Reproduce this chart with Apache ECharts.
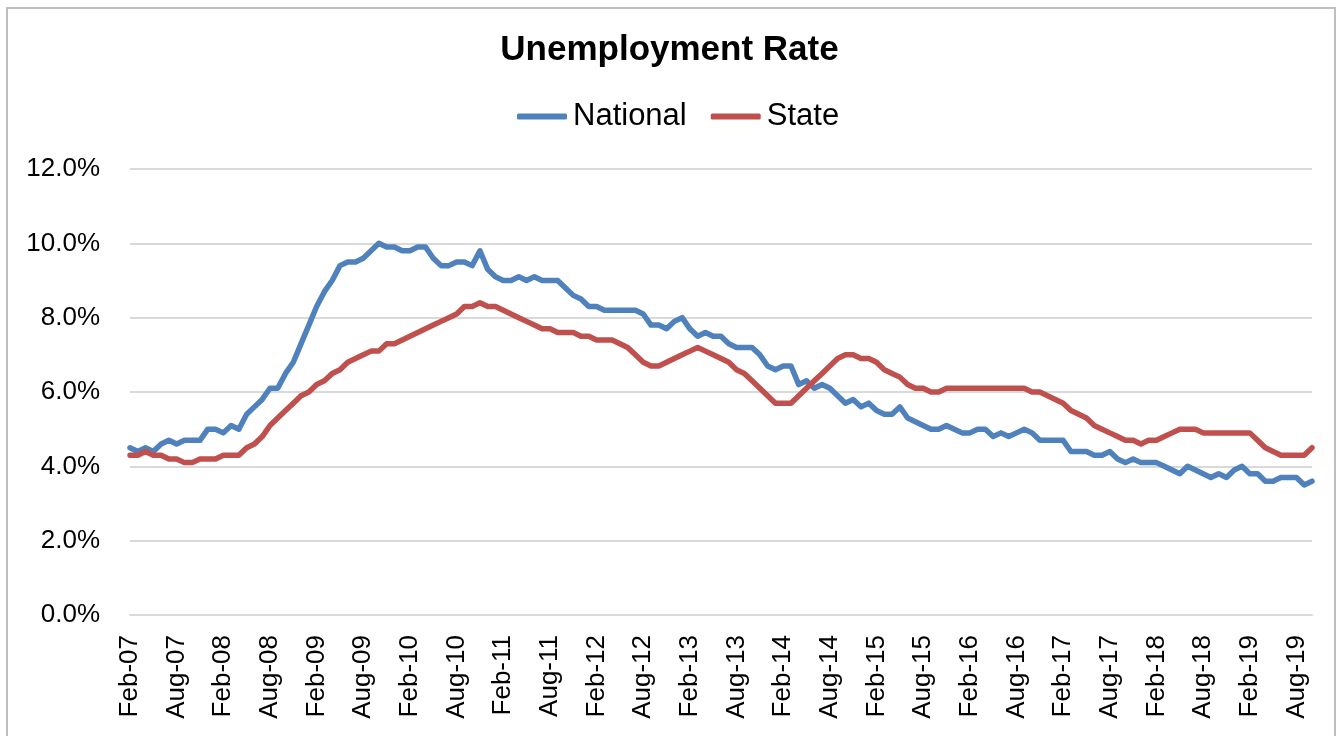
<!DOCTYPE html>
<html>
<head>
<meta charset="utf-8">
<script src="https://cdn.jsdelivr.net/npm/echarts@6/dist/echarts.min.js"></script>
<style>
html,body{margin:0;padding:0;background:#fff;}
#chart{width:1339px;height:736px;}
</style>
</head>
<body>
<div id="chart"></div>
<script>
// Category labels: monthly, Feb-07 .. Oct-19
const monthNames = ['Jan','Feb','Mar','Apr','May','Jun','Jul','Aug','Sep','Oct','Nov','Dec'];
const startYear = 2007, startMonth = 1;   // Feb 2007 (0-based month)
const endYear = 2019, endMonth = 9;       // Oct 2019
const categories = [];
for (let y = startYear; y <= endYear; y++) {
  for (let m = 0; m < 12; m++) {
    if (y === startYear && m < startMonth) continue;
    if (y === endYear && m > endMonth) continue;
    categories.push(monthNames[m] + '-' + String(y).slice(2));
  }
}

// National unemployment rate (%)
const national2007 = [4.5,4.4,4.5,4.4,4.6,4.7,4.6,4.7,4.7,4.7,5.0];
const national2008 = [5.0,4.9,5.1,5.0,5.4,5.6,5.8,6.1,6.1,6.5,6.8,7.3];
const national2009 = [7.8,8.3,8.7,9.0,9.4,9.5,9.5,9.6,9.8,10.0,9.9,9.9];
const national2010 = [9.8,9.8,9.9,9.9,9.6,9.4,9.4,9.5,9.5,9.4,9.8,9.3];
const national2011 = [9.1,9.0,9.0,9.1,9.0,9.1,9.0,9.0,9.0,8.8,8.6,8.5];
const national2012 = [8.3,8.3,8.2,8.2,8.2,8.2,8.2,8.1,7.8,7.8,7.7,7.9];
const national2013 = [8.0,7.7,7.5,7.6,7.5,7.5,7.3,7.2,7.2,7.2,7.0,6.7];
const national2014 = [6.6,6.7,6.7,6.2,6.3,6.1,6.2,6.1,5.9,5.7,5.8,5.6];
const national2015 = [5.7,5.5,5.4,5.4,5.6,5.3,5.2,5.1,5.0,5.0,5.1,5.0];
const national2016 = [4.9,4.9,5.0,5.0,4.8,4.9,4.8,4.9,5.0,4.9,4.7,4.7];
const national2017 = [4.7,4.7,4.4,4.4,4.4,4.3,4.3,4.4,4.2,4.1,4.2,4.1];
const national2018 = [4.1,4.1,4.0,3.9,3.8,4.0,3.9,3.8,3.7,3.8,3.7,3.9];
const national2019 = [4.0,3.8,3.8,3.6,3.6,3.7,3.7,3.7,3.5,3.6];

// State unemployment rate (%)
const state2007 = [4.3,4.3,4.4,4.3,4.3,4.2,4.2,4.1,4.1,4.2,4.2];
const state2008 = [4.2,4.3,4.3,4.3,4.5,4.6,4.8,5.1,5.3,5.5,5.7,5.9];
const state2009 = [6.0,6.2,6.3,6.5,6.6,6.8,6.9,7.0,7.1,7.1,7.3,7.3];
const state2010 = [7.4,7.5,7.6,7.7,7.8,7.9,8.0,8.1,8.3,8.3,8.4,8.3];
const state2011 = [8.3,8.2,8.1,8.0,7.9,7.8,7.7,7.7,7.6,7.6,7.6,7.5];
const state2012 = [7.5,7.4,7.4,7.4,7.3,7.2,7.0,6.8,6.7,6.7,6.8,6.9];
const state2013 = [7.0,7.1,7.2,7.1,7.0,6.9,6.8,6.6,6.5,6.3,6.1,5.9];
const state2014 = [5.7,5.7,5.7,5.9,6.1,6.3,6.5,6.7,6.9,7.0,7.0,6.9];
const state2015 = [6.9,6.8,6.6,6.5,6.4,6.2,6.1,6.1,6.0,6.0,6.1,6.1];
const state2016 = [6.1,6.1,6.1,6.1,6.1,6.1,6.1,6.1,6.1,6.0,6.0,5.9];
const state2017 = [5.8,5.7,5.5,5.4,5.3,5.1,5.0,4.9,4.8,4.7,4.7,4.6];
const state2018 = [4.7,4.7,4.8,4.9,5.0,5.0,5.0,4.9,4.9,4.9,4.9,4.9];
const state2019 = [4.9,4.9,4.7,4.5,4.4,4.3,4.3,4.3,4.3,4.5];

const national = [].concat(national2007,national2008,national2009,national2010,national2011,
  national2012,national2013,national2014,national2015,national2016,national2017,national2018,national2019);
const state = [].concat(state2007,state2008,state2009,state2010,state2011,state2012,state2013,
  state2014,state2015,state2016,state2017,state2018,state2019);

const yTicks = {min: 0, max: 12, interval: 2};

const FONT = '"Liberation Sans", Arial, sans-serif';
const chart = echarts.init(document.getElementById('chart'), null, {renderer: 'canvas'});
chart.setOption({
  backgroundColor: '#ffffff',
  animation: false,
  textStyle: {fontFamily: FONT},
  graphic: [{
    type: 'rect',
    shape: {x: 7, y: 8, width: 1328, height: 740},
    style: {fill: 'none', stroke: '#BFBFBF', lineWidth: 2},
    silent: true, z: -1
  }],
  title: {
    text: 'Unemployment Rate',
    left: 'center',
    top: 28,
    textStyle: {fontFamily: FONT, fontSize: 35, fontWeight: 'bold', color: '#000'}
  },
  legend: {
    data: ['National', 'State'],
    top: 96,
    left: 512,
    icon: 'roundRect',
    itemWidth: 50,
    itemHeight: 6,
    itemGap: 24,
    textStyle: {fontFamily: FONT, fontSize: 31, color: '#000', padding: [0,0,0,1]}
  },
  grid: {left: 130, right: 27, top: 169, bottom: 121, containLabel: false},
  xAxis: {
    type: 'category',
    data: categories,
    boundaryGap: false,
    axisLine: {show: true, lineStyle: {color: '#D9D9D9', width: 2}},
    axisTick: {show: false},
    axisLabel: {
      interval: 5,
      rotate: 90,
      margin: 20,
      fontFamily: FONT,
      fontSize: 26,
      color: '#000'
    },
    splitLine: {show: false}
  },
  yAxis: {
    type: 'value',
    min: yTicks.min,
    max: yTicks.max,
    interval: yTicks.interval,
    axisLine: {show: false},
    axisTick: {show: false},
    axisLabel: {
      margin: 30,
      fontFamily: FONT,
      fontSize: 26,
      color: '#000',
      formatter: v => v.toFixed(1) + '%'
    },
    splitLine: {show: true, lineStyle: {color: '#D9D9D9', width: 2}}
  },
  series: [
    {
      name: 'National',
      type: 'line',
      data: national,
      symbol: 'none',
      smooth: false,
      lineStyle: {color: '#4F81BD', width: 5.5, join: 'round', cap: 'round'},
      itemStyle: {color: '#4F81BD'}
    },
    {
      name: 'State',
      type: 'line',
      data: state,
      symbol: 'none',
      smooth: false,
      lineStyle: {color: '#C0504D', width: 5.5, join: 'round', cap: 'round'},
      itemStyle: {color: '#C0504D'}
    }
  ]
});
</script>
</body>
</html>
